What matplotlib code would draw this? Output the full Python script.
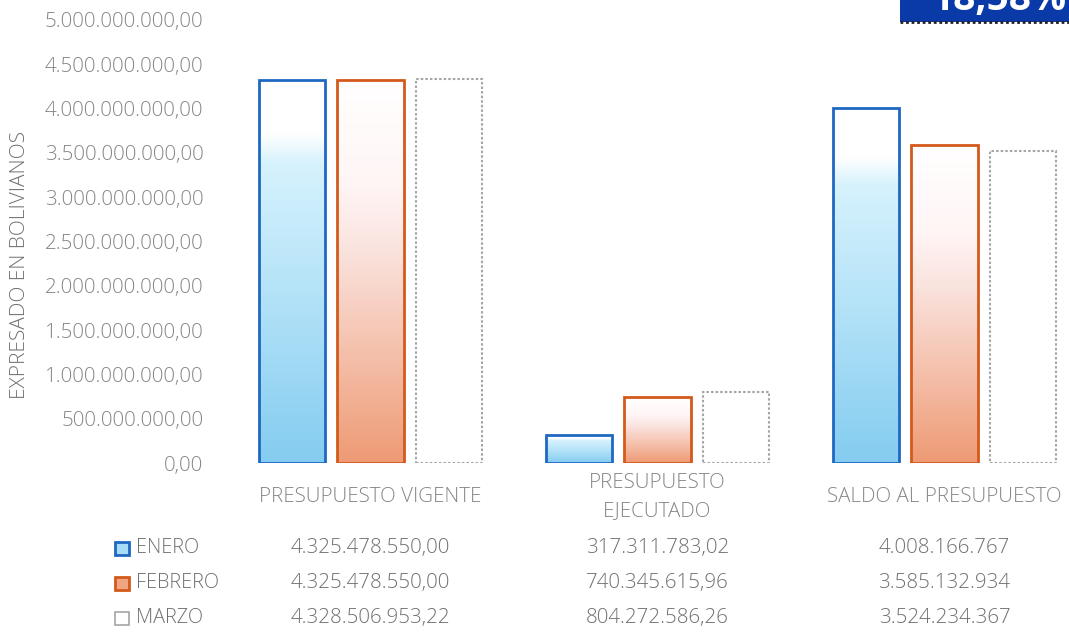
import matplotlib
matplotlib.use("Agg")
import matplotlib.pyplot as plt
import numpy as np
from matplotlib.colors import LinearSegmentedColormap
from matplotlib.patches import Rectangle
import matplotlib.transforms as mtransforms

# ---------------- data ----------------
categories = ["PRESUPUESTO VIGENTE", "PRESUPUESTO\nEJECUTADO", "SALDO AL PRESUPUESTO"]
series_names = ["ENERO", "FEBRERO", "MARZO"]
enero = [4325478550.00, 317311783.02, 4008166767]
febrero = [4325478550.00, 740345615.96, 3585132934]
marzo = [4328506953.22, 804272586.26, 3524234367]
decimals = [2, 2, 0]  # number format per category in the data table
yticks = [0, 500e6, 1000e6, 1500e6, 2000e6, 2500e6, 3000e6, 3500e6, 4000e6, 4500e6, 5000e6]
ylabel = "EXPRESADO EN BOLIVIANOS"
badge_text = "18,58%"

series = [enero, febrero, marzo]

FONT = ["Open Sans", "DejaVu Sans"]
plt.rcParams["font.family"] = FONT
TXT = "#858585"
TXT2 = "#707070"
FS = 14.8
W = "light"


def fmt(v, d):
    s = f"{v:,.{d}f}"
    return s.replace(",", "X").replace(".", ",").replace("X", ".")


fig = plt.figure(figsize=(10.69, 6.35), dpi=100)
ax = fig.add_axes([227 / 1069, 1 - 463 / 635, 861 / 1069, (463 - 20) / 635])
ax.set_xlim(-0.5, 2.5)
ax.set_ylim(0, 5e9)

cmap_blue = LinearSegmentedColormap.from_list(
    "b", [(0, "#84ccf0"), (0.45, "#b5e3f8"), (0.78, "#d6f2fd"), (0.86, "#ffffff"), (1, "#ffffff")])
cmap_orange = LinearSegmentedColormap.from_list(
    "o", [(0, "#ee9a74"), (0.3, "#f5c2ae"), (0.55, "#fae2dd"), (0.72, "#fff5f5"), (1, "#ffffff")])

edge_colors = ["#1f68c2", "#d45a1c", "#a6a6a6"]
cmaps = [cmap_blue, cmap_orange, None]
width = 0.23
step = 0.272
x = np.arange(len(categories))

grad = np.linspace(0, 1, 256).reshape(-1, 1)
for i, vals in enumerate(series):
    xs = x + (i - 1) * step
    bars = ax.bar(xs, vals, width=width, facecolor="none" if cmaps[i] else "white",
                  edgecolor=edge_colors[i], linewidth=2.0 if i < 2 else 1.5,
                  linestyle="-" if i < 2 else (0, (1.2, 1.0)), zorder=3)
    if cmaps[i] is not None:
        for b in bars:
            x0 = b.get_x()
            h = b.get_height()
            im = ax.imshow(grad, cmap=cmaps[i], origin="lower", aspect="auto",
                           extent=(x0, x0 + b.get_width(), 0, h), zorder=2,
                           interpolation="bilinear")
            im.set_clip_path(b)

ax.set_xlim(-0.5, 2.5)
ax.set_ylim(0, 5e9)
for s in ax.spines.values():
    s.set_visible(False)
ax.set_xticks([])
ax.set_yticks(yticks)
ax.set_yticklabels([fmt(v, 2) for v in yticks], color=TXT, fontsize=FS, fontweight=W)
ax.tick_params(axis="y", length=0, pad=17)
ax.set_facecolor("none")

fig.text(20 / 1069, 1 - 265 / 635, ylabel, rotation=90, ha="center", va="center",
         color=TXT2, fontsize=15, fontweight=W)

# category labels
trans = mtransforms.blended_transform_factory(ax.transData, fig.transFigure)
for xi, c in zip(x, categories):
    ax.text(xi, 1 - 497 / 635, c, transform=trans, ha="center", va="center",
            color=TXT, fontsize=FS, linespacing=1.6, fontweight=W)

# data table
row_y = [548, 583, 618]
key_face = ["#a6dcf6", "#f2a583", "white"]
for i, (name, vals) in enumerate(zip(series_names, series)):
    yy = 1 - row_y[i] / 635
    fig.patches.append(Rectangle((115 / 1069, yy - 6.5 / 635), 14 / 1069, 13 / 635,
                                 transform=fig.transFigure, facecolor=key_face[i],
                                 edgecolor=edge_colors[i], linewidth=2 if i < 2 else 1.2))
    fig.text(136 / 1069, yy, name, ha="left", va="center", color=TXT2, fontsize=14.3,
             fontweight=W)
    for xi, v, d in zip(x, vals, decimals):
        ax.text(xi, yy, fmt(v, d), transform=trans, ha="center", va="center",
                color=TXT2, fontsize=FS, fontweight=W)

# clipped badge at top right
fig.patches.append(Rectangle((900 / 1069, 1 - 22 / 635), 200 / 1069, 40 / 635,
                             transform=fig.transFigure, facecolor="#0a3aa8",
                             edgecolor="none"))
fig.lines.append(plt.Line2D([900 / 1069, 1], [1 - 22 / 635, 1 - 22 / 635],
                            transform=fig.transFigure, color="#222222", lw=2,
                            linestyle=(0, (1, 1))))
fig.text(932 / 1069, 1 - 10 / 635, badge_text, ha="left", va="baseline", color="white",
         fontsize=28, fontweight="bold")

fig.savefig("out.png", dpi=100)
